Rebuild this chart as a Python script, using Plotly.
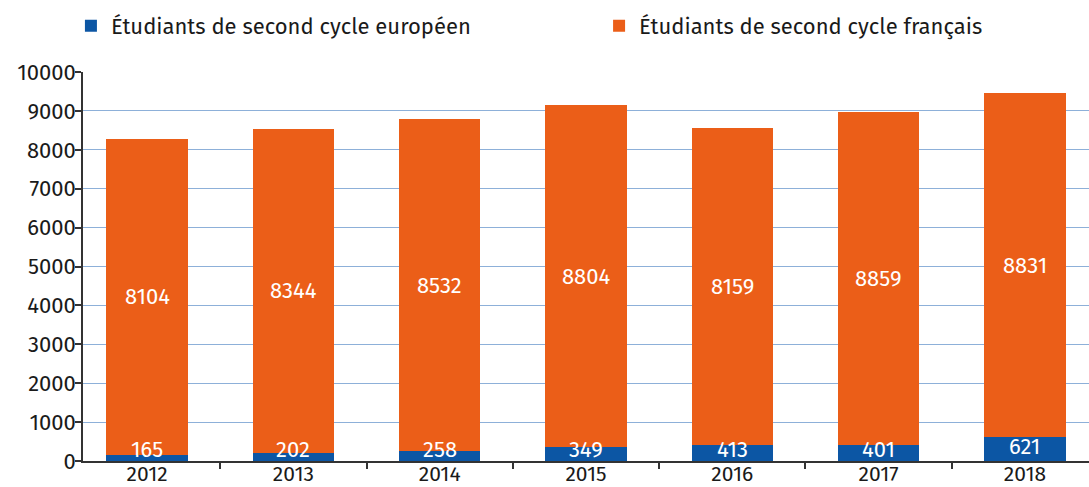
import plotly.graph_objects as go

years = ["2012", "2013", "2014", "2015", "2016", "2017", "2018"]
europeens = [165, 202, 258, 349, 413, 401, 621]
# bar heights as drawn in the reference
francais = [8104, 8344, 8532, 8804, 8159, 8559, 8831]
# value labels as printed in the reference
francais_labels = ["8104", "8344", "8532", "8804", "8159", "8859", "8831"]
yticks = [0, 1000, 2000, 3000, 4000, 5000, 6000, 7000, 8000, 9000, 10000]
ytick_labels = [str(v) for v in yticks]

BLUE = "#0c56a4"
ORANGE = "#eb5e18"
FONT = "Fira Sans, Noto Sans, Open Sans, sans-serif"

xs = list(range(len(years)))

fig = go.Figure()
fig.add_bar(x=xs, y=europeens, name="Étudiants de second cycle européen",
            marker=dict(color=BLUE, line=dict(width=0)), width=0.555, legend="legend")
fig.add_bar(x=xs, y=francais, name="Étudiants de second cycle français",
            marker=dict(color=ORANGE, line=dict(width=0)), width=0.555, legend="legend2")

anns = []
for i, (e, f, fl) in enumerate(zip(europeens, francais, francais_labels)):
    anns.append(dict(x=i, y=max(e / 2 + 60, 290), text=str(e), showarrow=False,
                     font=dict(color="white", size=22, family=FONT), yanchor="middle"))
    anns.append(dict(x=i, y=e + f / 2, text=fl, showarrow=False,
                     font=dict(color="white", size=22, family=FONT), yanchor="middle"))

leg_common = dict(orientation="h", xref="paper", y=0.99, yref="container",
                  xanchor="left", yanchor="top", font=dict(size=22, family=FONT),
                  bgcolor="rgba(0,0,0,0)")

fig.update_layout(
    barmode="stack",
    width=1089, height=487,
    margin=dict(l=83, r=0, t=72, b=26, autoexpand=False),
    paper_bgcolor="white", plot_bgcolor="white",
    font=dict(family=FONT, size=22, color="#1a1a1a"),
    showlegend=True,
    legend=dict(x=-0.012, **leg_common),
    legend2=dict(x=0.513, **leg_common),
    annotations=anns,
    xaxis=dict(range=[-0.438, 6.438], tickmode="array", tickvals=xs, ticktext=years,
               ticks="", showgrid=False, zeroline=False,
               showline=True, linecolor="#333333", linewidth=1.5,
               tickfont=dict(size=21, family=FONT), ticklabelstandoff=-7,
               minor=dict(tick0=0.5, dtick=1, ticks="outside", ticklen=6,
                          tickcolor="#333333", tickwidth=1.5, showgrid=False)),
    yaxis=dict(range=[0, 10000], tickmode="array", tickvals=yticks, ticktext=ytick_labels,
               showgrid=True, gridcolor="#8db0d9", gridwidth=1.2,
               zeroline=False, showline=True, linecolor="#333333", linewidth=1.5,
               ticks="outside", ticklen=6, tickcolor="#333333", tickwidth=1.5,
               tickfont=dict(size=22, family=FONT), ticklabelstandoff=-5),
)

fig.write_html("out.html", config={"displayModeBar": False},
               post_script="document.body.style.margin='0';")
